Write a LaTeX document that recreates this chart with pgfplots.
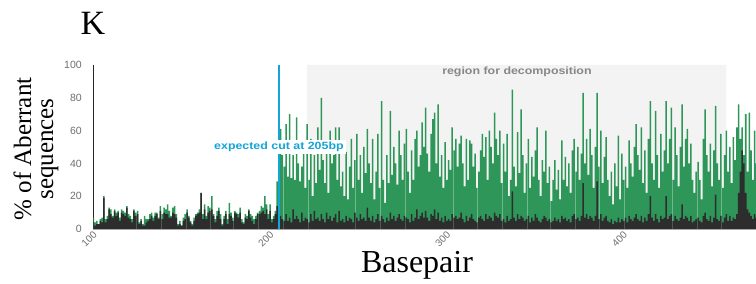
\documentclass[border=0pt]{standalone}
\usepackage{pgfplots}
\pgfplotsset{compat=1.18}
\usepackage{pgfplotstable}
\usepackage{graphicx}
\usepackage{fontspec}
\setmainfont{Liberation Serif}
\setsansfont{Liberation Sans}
\definecolor{bargreen}{RGB}{46,150,88}
\definecolor{bardark}{RGB}{45,45,45}
\definecolor{cutblue}{RGB}{20,165,215}
\definecolor{regiongray}{RGB}{243,243,243}
\definecolor{tickgray}{RGB}{110,110,110}
\definecolor{regiontext}{RGB}{135,135,135}
\pgfplotstableread[row sep=\\]{
x g b\\
100 7 4\\ 101 4 2\\ 102 5 3\\ 103 3 3\\ 104 6 5\\ 105 7 4\\ 106 20 19\\ 107 6 4\\ 108 8 6\\ 109 13 12\\
110 12 9\\ 111 8 7\\ 112 12 11\\ 113 10 8\\ 114 11 10\\ 115 7 5\\ 116 12 10\\ 117 11 9\\ 118 10 8\\ 119 14 13\\
120 9 7\\ 121 8 6\\ 122 6 4\\ 123 12 11\\ 124 10 8\\ 125 11 9\\ 126 4 3\\ 127 6 5\\ 128 3 2\\ 129 8 2\\
130 6 4\\ 131 6 5\\ 132 9 6\\ 133 10 8\\ 134 7 5\\ 135 10 8\\ 136 10 9\\ 137 7 6\\ 138 14 11\\ 139 9 6\\
140 13 10\\ 141 12 9\\ 142 15 9\\ 143 11 7\\ 144 8 7\\ 145 13 10\\ 146 14 9\\ 147 9 7\\ 148 3 2\\ 149 5 3\\
150 2 2\\ 151 7 5\\ 152 9 6\\ 153 12 10\\ 154 8 7\\ 155 5 4\\ 156 3 2\\ 157 7 5\\ 158 9 8\\ 159 10 9\\
160 12 10\\ 161 22 22\\ 162 9 6\\ 163 15 12\\ 164 8 6\\ 165 14 10\\ 166 13 11\\ 167 20 12\\ 168 9 8\\ 169 6 4\\
170 11 8\\ 171 13 11\\ 172 9 6\\ 173 3 2\\ 174 8 6\\ 175 11 9\\ 176 6 3\\ 177 16 9\\ 178 10 8\\ 179 7 5\\
180 11 10\\ 181 10 9\\ 182 9 7\\ 183 13 10\\ 184 6 4\\ 185 4 3\\ 186 9 7\\ 187 8 6\\ 188 12 11\\ 189 9 7\\
190 8 5\\ 191 6 3\\ 192 8 6\\ 193 10 9\\ 194 11 9\\ 195 14 10\\ 196 13 11\\ 197 20 9\\ 198 15 12\\ 199 9 6\\
200 15 11\\ 201 6 4\\ 202 8 6\\ 203 11 9\\ 204 29 14\\ 205 10 14\\ 206 61 8\\ 207 45 6\\ 208 38 5\\ 209 64 9\\
210 32 5\\ 211 70 7\\ 212 31 4\\ 213 45 12\\ 214 30 6\\ 215 68 8\\ 216 40 6\\ 217 29 4\\ 218 38 10\\ 219 52 5\\
220 25 7\\ 221 64 6\\ 222 30 4\\ 223 55 9\\ 224 20 5\\ 225 45 11\\ 226 28 6\\ 227 62 7\\ 228 36 5\\ 229 80 9\\
230 42 6\\ 231 28 4\\ 232 50 10\\ 233 22 6\\ 234 60 8\\ 235 40 5\\ 236 45 7\\ 237 62 9\\ 238 30 4\\ 239 62 11\\
240 26 5\\ 241 35 6\\ 242 20 4\\ 243 47 8\\ 244 18 5\\ 245 38 7\\ 246 55 6\\ 247 25 4\\ 248 42 10\\ 249 58 7\\
250 30 5\\ 251 45 9\\ 252 22 6\\ 253 50 7\\ 254 34 5\\ 255 61 13\\ 256 40 7\\ 257 28 5\\ 258 55 8\\ 259 18 4\\
260 35 6\\ 261 58 9\\ 262 25 5\\ 263 78 8\\ 264 30 6\\ 265 16 4\\ 266 45 7\\ 267 28 5\\ 268 72 10\\ 269 33 6\\
270 50 8\\ 271 40 5\\ 272 27 7\\ 273 60 9\\ 274 45 6\\ 275 30 5\\ 276 52 8\\ 277 61 7\\ 278 35 6\\ 279 22 4\\
280 48 9\\ 281 30 5\\ 282 55 7\\ 283 60 12\\ 284 38 6\\ 285 45 8\\ 286 65 10\\ 287 50 7\\ 288 74 11\\ 289 46 7\\
290 35 5\\ 291 58 9\\ 292 67 8\\ 293 71 12\\ 294 40 6\\ 295 76 10\\ 296 32 5\\ 297 45 7\\ 298 25 4\\ 299 53 8\\
300 30 5\\ 301 42 6\\ 302 36 5\\ 303 62 9\\ 304 48 7\\ 305 55 8\\ 306 38 6\\ 307 52 7\\ 308 57 10\\ 309 40 6\\
310 26 4\\ 311 55 8\\ 312 30 5\\ 313 54 7\\ 314 52 9\\ 315 38 6\\ 316 46 5\\ 317 25 4\\ 318 35 7\\ 319 48 8\\
320 58 6\\ 321 44 5\\ 322 56 9\\ 323 30 6\\ 324 60 8\\ 325 50 7\\ 326 40 5\\ 327 71 10\\ 328 55 8\\ 329 45 7\\
330 60 9\\ 331 28 5\\ 332 52 6\\ 333 35 4\\ 334 58 8\\ 335 20 5\\ 336 30 6\\ 337 85 23\\ 338 38 7\\ 339 26 5\\
340 59 9\\ 341 34 6\\ 342 73 8\\ 343 45 7\\ 344 22 5\\ 345 40 6\\ 346 55 8\\ 347 25 4\\ 348 44 7\\ 349 32 5\\
350 48 9\\ 351 62 7\\ 352 30 5\\ 353 20 4\\ 354 42 6\\ 355 35 8\\ 356 60 7\\ 357 28 5\\ 358 38 6\\ 359 17 4\\
360 30 5\\ 361 42 7\\ 362 24 5\\ 363 36 6\\ 364 18 4\\ 365 54 8\\ 366 30 6\\ 367 44 7\\ 368 26 5\\ 369 40 6\\
370 22 4\\ 371 48 8\\ 372 55 9\\ 373 35 6\\ 374 50 7\\ 375 30 5\\ 376 46 8\\ 377 83 28\\ 378 40 7\\ 379 55 9\\
380 33 6\\ 381 61 8\\ 382 45 7\\ 383 25 5\\ 384 50 8\\ 385 83 29\\ 386 38 6\\ 387 60 9\\ 388 28 5\\ 389 44 7\\
390 56 8\\ 391 30 5\\ 392 20 4\\ 393 35 6\\ 394 15 3\\ 395 40 5\\ 396 26 4\\ 397 57 7\\ 398 18 4\\ 399 46 6\\
400 30 5\\ 401 38 7\\ 402 25 4\\ 403 54 8\\ 404 40 6\\ 405 32 5\\ 406 50 7\\ 407 64 9\\ 408 45 6\\ 409 36 5\\
410 62 8\\ 411 28 4\\ 412 48 7\\ 413 22 5\\ 414 55 9\\ 415 78 20\\ 416 40 7\\ 417 30 5\\ 418 72 9\\ 419 45 6\\
420 25 4\\ 421 58 8\\ 422 35 6\\ 423 48 7\\ 424 78 20\\ 425 40 6\\ 426 55 8\\ 427 74 9\\ 428 30 5\\ 429 62 8\\
430 45 6\\ 431 26 5\\ 432 50 7\\ 433 76 15\\ 434 38 6\\ 435 55 8\\ 436 61 7\\ 437 40 5\\ 438 52 8\\ 439 30 4\\
440 22 5\\ 441 35 6\\ 442 41 7\\ 443 30 5\\ 444 18 4\\ 445 55 8\\ 446 73 10\\ 447 45 6\\ 448 35 5\\ 449 52 8\\
450 26 4\\ 451 48 7\\ 452 75 21\\ 453 40 6\\ 454 30 5\\ 455 58 8\\ 456 25 4\\ 457 45 7\\ 458 60 9\\ 459 35 5\\
460 50 8\\ 461 28 5\\ 462 56 7\\ 463 42 6\\ 464 62 9\\ 465 76 22\\ 466 55 35\\ 467 62 48\\ 468 45 40\\ 469 70 22\\
470 35 12\\ 471 71 10\\ 472 48 8\\ 473 30 6\\ 474 60 9\\ 475 40 7\\
}\data
\begin{document}
\begin{tikzpicture}[x=1pt,y=1pt]
\useasboundingbox (0,0) rectangle (756,284);
\node[font=\fontsize{34}{36}\selectfont, anchor=base] at (93,249) {K};
\node[rotate=90, align=center, font=\fontsize{25}{22}\selectfont] at (36,135) {\% of Aberrant\\sequences};
\node[font=\fontsize{32}{34}\selectfont, anchor=base] at (417,11) {Basepair};
\begin{axis}[
  at={(93.3pt,55pt)}, anchor=south west,
  scale only axis, width=662.7pt, height=164pt,
  xmin=100, xmax=474.8, ymin=0, ymax=100,
  axis x line*=bottom, axis y line*=left,
  x axis line style={draw=black!35, line width=0.8pt},
  y axis line style={draw=black!85, line width=1.2pt},
  major tick length=0pt,
  xtick={100,200,300,400},
  ytick={0,20,40,60,80,100},
  /pgf/number format/assume math mode=true,
  xticklabel style={font=\sffamily\fontsize{10}{11}\selectfont, text=tickgray, rotate=45, anchor=east, xshift=2pt, yshift=-4pt},
  yticklabel style={font=\sffamily\fontsize{10.5}{11}\selectfont, text=tickgray, anchor=east, xshift=-8pt},
]
\addplot[fill=regiongray, draw=none] coordinates {(221,0) (221,100) (458,100) (458,0)} \closedcycle;
\node[font=\sffamily\bfseries\fontsize{10.5}{12}\selectfont, text=regiontext] at (axis cs:339.6,95.7) {\scalebox{1.18}[1]{region for decomposition}};
\addplot[ybar, bar width=0.85, bar shift=0pt, fill=bargreen, draw=none] table[x=x, y=g] {\data};
\addplot[ybar, bar width=0.85, bar shift=0pt, fill=bardark, draw=none] table[x=x, y=b] {\data};
\addplot[cutblue, line width=1.8pt] coordinates {(205,0) (205,100)};
\node[fill=white, text=cutblue, font=\sffamily\bfseries\fontsize{10.5}{12}\selectfont, inner sep=2pt] at (axis cs:205,50) {\scalebox{1.18}[1]{expected cut at 205bp}};
\end{axis}
\end{tikzpicture}
\end{document}
